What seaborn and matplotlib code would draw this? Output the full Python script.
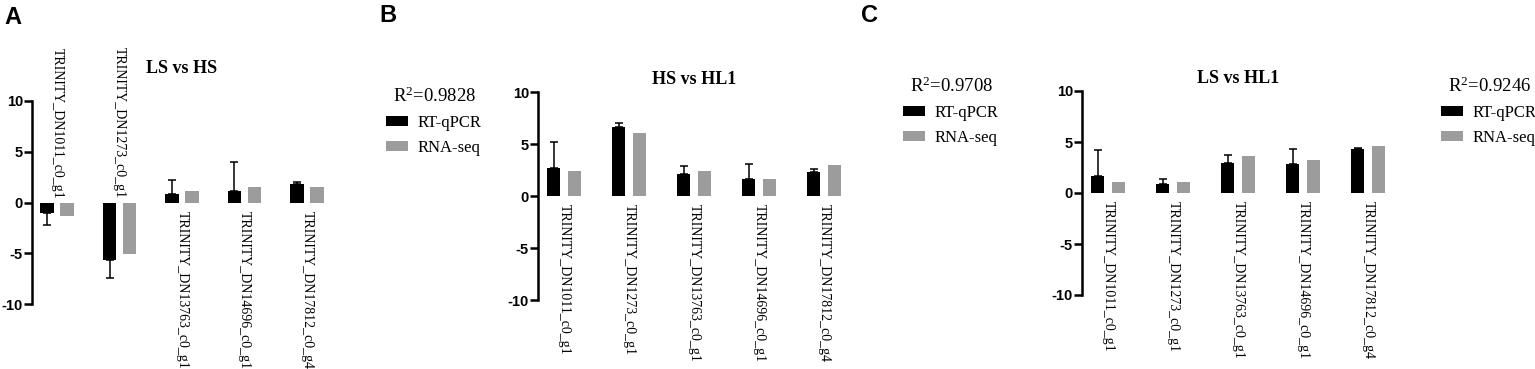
import pandas as pd
import seaborn as sns
import matplotlib.pyplot as plt

genes = [
    "TRINITY_DN1011_c0_g1",
    "TRINITY_DN1273_c0_g1",
    "TRINITY_DN13763_c0_g1",
    "TRINITY_DN14696_c0_g1",
    "TRINITY_DN17812_c0_g4",
]
methods = ["RT-qPCR", "RNA-seq"]

# LS vs HS
a_rt = [-1.0, -5.65, 0.8, 1.1, 1.8]
a_rt_sd = [1.2, 1.8, 1.45, 2.9, 0.2]
a_rna = [-1.35, -5.05, 1.1, 1.5, 1.5]
a_r2 = "R$^{2}$=0.9828"

# HS vs HL1
b_rt = [2.65, 6.6, 2.1, 1.6, 2.35]
b_rt_sd = [2.5, 0.4, 0.75, 1.45, 0.22]
b_rna = [2.4, 6.1, 2.4, 1.6, 3.0]
b_r2 = "R$^{2}$=0.9708"

# LS vs HL1
c_rt = [1.7, 0.9, 2.95, 2.8, 4.3]
c_rt_sd = [2.5, 0.45, 0.8, 1.5, 0.15]
c_rna = [1.1, 1.1, 3.6, 3.2, 4.6]
c_r2 = "R$^{2}$=0.9246"

SERIF = "Liberation Serif"
SANS = "Liberation Sans"
COLORS = {"RT-qPCR": "#000000", "RNA-seq": "#9c9c9f"}

plt.rcParams["axes.unicode_minus"] = False
plt.rcParams["mathtext.fontset"] = "custom"
plt.rcParams["mathtext.rm"] = SERIF
plt.rcParams["mathtext.it"] = SERIF + ":italic"
plt.rcParams["mathtext.bf"] = SERIF + ":bold"
plt.rcParams["mathtext.default"] = "rm"


def make_frame(rt, rna):
    return pd.DataFrame({
        "gene": genes * 2,
        "method": ["RT-qPCR"] * len(genes) + ["RNA-seq"] * len(genes),
        "value": list(rt) + list(rna),
    })


def panel(fig, rect, rt, sd, rna, title, title_pad, r2, leg_xy, letter, letter_xy):
    ax = fig.add_axes(rect)
    df = make_frame(rt, rna)
    sns.barplot(
        data=df, x="gene", y="value", hue="method", hue_order=methods,
        palette=COLORS, width=0.64, gap=0.34, errorbar=None, ax=ax,
        saturation=1, legend=True,
    )

    # one-sided error bars on the RT-qPCR bars
    xs = [b.get_x() + b.get_width() / 2 for b in ax.containers[0]]
    lower = [s if v < 0 else 0 for v, s in zip(rt, sd)]
    upper = [s if v >= 0 else 0 for v, s in zip(rt, sd)]
    ax.errorbar(xs, rt, yerr=[lower, upper], fmt="none", ecolor="black",
                elinewidth=1.1, capsize=2.6, capthick=1.1)

    ax.set_xlim(-0.4, 4.4)
    ax.set_ylim(-10, 10)
    ax.set_yticks([-10, -5, 0, 5, 10])
    ax.set_xticks([])
    ax.set(xlabel=None, ylabel=None)
    for s in ("top", "right", "bottom"):
        ax.spines[s].set_visible(False)
    ax.spines["left"].set_linewidth(1.8)
    ax.tick_params(axis="y", length=6, width=1.8, pad=0.5)
    for lab in ax.get_yticklabels():
        lab.set_fontfamily(SANS)
        lab.set_fontweight("bold")
        lab.set_fontsize(10.5)

    # gene labels sit on the opposite side of the bars
    for i, g in enumerate(genes):
        if rt[i] < 0:
            ax.annotate(g, (i, 0), xytext=(0, 3), textcoords="offset points",
                        rotation=-90, ha="center", va="bottom",
                        fontfamily=SERIF, fontsize=10)
        else:
            ax.annotate(g, (i, 0), xytext=(0, -6), textcoords="offset points",
                        rotation=-90, ha="center", va="top",
                        fontfamily=SERIF, fontsize=10)

    ax.set_title(title, fontfamily=SERIF, fontweight="bold", fontsize=13,
                 pad=title_pad)

    handles, labels = ax.get_legend_handles_labels()
    ax.legend(
        handles, labels, title=r2, loc="upper left", bbox_to_anchor=leg_xy,
        bbox_transform=fig.transFigure, frameon=False, borderpad=0,
        prop={"family": SERIF, "size": 12},
        title_fontproperties={"family": SERIF, "size": 13.5},
        handlelength=1.3, handleheight=0.6, handletextpad=0.6,
        labelspacing=0.55,
    )
    fig.text(letter_xy[0], letter_xy[1], letter, fontfamily=SANS,
             fontweight="bold", fontsize=17, va="baseline", ha="left")
    return ax


W, H = 1535, 369
fig = plt.figure(figsize=(W / 100, H / 100), dpi=100)

panel(fig, [32 / W, 1 - 304 / H, 300 / W, 203 / H], a_rt, a_rt_sd, a_rna,
      "LS vs HS", 20, a_r2, (378 / W, 1 - 78 / H), "A", (4 / W, 1 - 24 / H))
panel(fig, [538 / W, 1 - 300 / H, 312 / W, 208 / H], b_rt, b_rt_sd, b_rna,
      "HS vs HL1", 6, b_r2, (895 / W, 1 - 68 / H), "B", (379 / W, 1 - 22 / H))
panel(fig, [1082 / W, 1 - 295 / H, 312 / W, 204 / H], c_rt, c_rt_sd, c_rna,
      "LS vs HL1", 6, c_r2, (1433 / W, 1 - 68 / H), "C", (861 / W, 1 - 22 / H))

fig.savefig("out.png", dpi=100)
